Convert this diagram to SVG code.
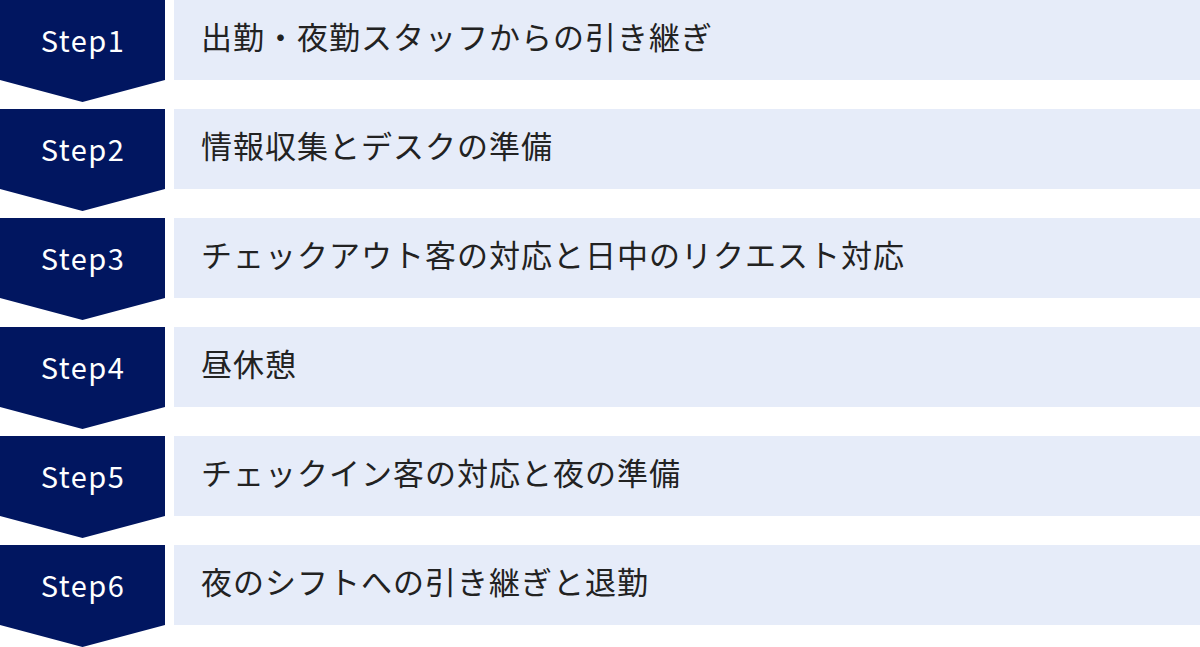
<svg xmlns="http://www.w3.org/2000/svg" width="1200" height="647" viewBox="0 0 1200 647">
<style>
.badge{fill:#011660}
.bar{fill:#E6ECF9}
.st{font-family:"Noto Sans CJK JP","Noto Sans",sans-serif;font-size:29px;fill:#fff;text-anchor:middle;letter-spacing:1.5px}
.lb{font-family:"Noto Sans CJK JP","Noto Sans",sans-serif;font-size:31px;fill:#222;letter-spacing:1px}
</style>
<defs>
<path id="b" d="M0 0H165V80L82.5 102L0 80Z"/>
</defs>
<rect width="1200" height="647" fill="#fff"/>
<g id="step1"><use href="#b" class="badge"/><rect x="174" y="0" width="1026" height="80" class="bar"/><text x="83" y="52.3" class="st">Step1</text><text x="201" y="49" class="lb">出勤・夜勤スタッフからの引き継ぎ</text></g>
<g id="step2" transform="translate(0,109)"><use href="#b" class="badge"/><rect x="174" y="0" width="1026" height="80" class="bar"/><text x="83" y="52.3" class="st">Step2</text><text x="201" y="49" class="lb">情報収集とデスクの準備</text></g>
<g id="step3" transform="translate(0,218)"><use href="#b" class="badge"/><rect x="174" y="0" width="1026" height="80" class="bar"/><text x="83" y="52.3" class="st">Step3</text><text x="201" y="49" class="lb">チェックアウト客の対応と日中のリクエスト対応</text></g>
<g id="step4" transform="translate(0,327)"><use href="#b" class="badge"/><rect x="174" y="0" width="1026" height="80" class="bar"/><text x="83" y="52.3" class="st">Step4</text><text x="201" y="49" class="lb">昼休憩</text></g>
<g id="step5" transform="translate(0,436)"><use href="#b" class="badge"/><rect x="174" y="0" width="1026" height="80" class="bar"/><text x="83" y="52.3" class="st">Step5</text><text x="201" y="49" class="lb">チェックイン客の対応と夜の準備</text></g>
<g id="step6" transform="translate(0,545)"><use href="#b" class="badge"/><rect x="174" y="0" width="1026" height="80" class="bar"/><text x="83" y="52.3" class="st">Step6</text><text x="201" y="49" class="lb">夜のシフトへの引き継ぎと退勤</text></g>
<g id="connectors"/>
</svg>
